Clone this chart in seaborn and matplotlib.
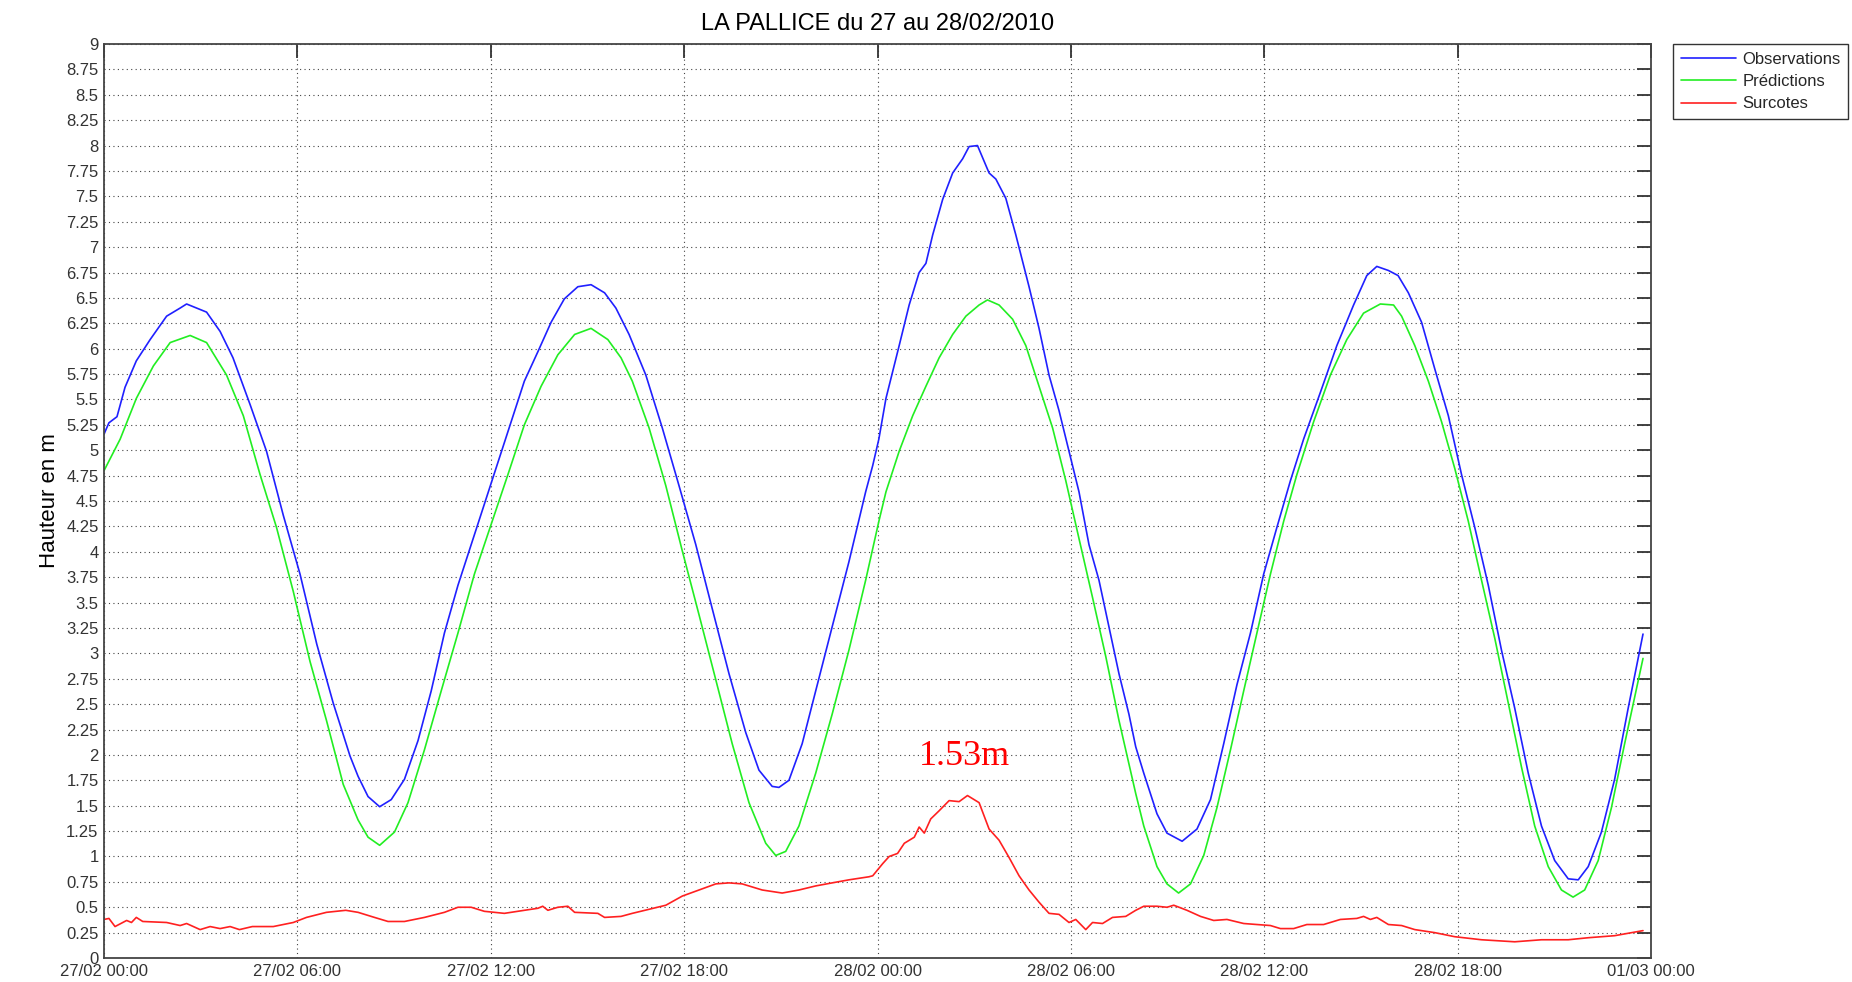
import pandas as pd
import matplotlib
matplotlib.use("Agg")
import matplotlib.pyplot as plt
import matplotlib.dates as mdates
from matplotlib.ticker import MultipleLocator, FuncFormatter
import seaborn as sns

# === Values (hours since 27/02/2010 00:00, height in m) ===
obs_hours = [0.0, 0.15, 0.4, 0.65, 1.0, 1.43, 1.94, 2.36, 2.56, 3.18, 3.6, 4.0, 4.53, 5.04,
             5.56, 6.08, 6.6, 7.11, 7.63, 7.88, 8.19, 8.55, 8.91, 9.32, 9.74, 10.15, 10.56,
             10.98, 11.39, 11.8, 12.22, 12.63, 13.04, 13.46, 13.87, 14.28, 14.7, 15.11, 15.53,
             15.88, 16.29, 16.81, 17.32, 17.84, 18.36, 18.87, 19.39, 19.91, 20.32, 20.73, 20.94,
             21.25, 21.66, 22.08, 22.59, 23.11, 23.63, 23.85, 24.04, 24.26, 24.67, 24.98, 25.29,
             25.5, 25.71, 26.02, 26.33, 26.64, 26.84, 27.1, 27.46, 27.67, 27.98, 28.29, 28.7,
             29.01, 29.32, 29.63, 29.94, 30.25, 30.56, 30.87, 31.18, 31.49, 31.8, 32.01, 32.26,
             32.67, 32.98, 33.45, 33.91, 34.33, 34.74, 35.15, 35.57, 35.98, 36.39, 36.81, 37.22,
             37.74, 38.25, 38.77, 39.18, 39.49, 39.85, 40.15, 40.47, 40.88, 41.29, 41.71, 42.12,
             42.53, 42.95, 43.36, 43.77, 44.19, 44.6, 45.01, 45.43, 45.74, 46.05, 46.46, 46.87,
             47.29, 47.75]
obs_m = [5.16, 5.27, 5.33, 5.62, 5.88, 6.09, 6.32, 6.40, 6.44, 6.36, 6.17, 5.91, 5.45, 4.99,
         4.36, 3.78, 3.09, 2.51, 1.99, 1.79, 1.59, 1.49, 1.56, 1.76, 2.14, 2.63, 3.20,
         3.67, 4.07, 4.47, 4.88, 5.28, 5.68, 5.97, 6.26, 6.49, 6.61, 6.63, 6.55,
         6.40, 6.14, 5.74, 5.22, 4.65, 4.07, 3.44, 2.80, 2.22, 1.85, 1.69, 1.68,
         1.75, 2.11, 2.63, 3.26, 3.90, 4.59, 4.85, 5.11, 5.51, 6.03, 6.43, 6.75,
         6.84, 7.12, 7.47, 7.73, 7.87, 7.99, 8.00, 7.73, 7.67, 7.48, 7.12, 6.61,
         6.20, 5.74, 5.39, 4.99, 4.59, 4.07, 3.72, 3.26, 2.80, 2.40, 2.08, 1.82,
         1.42, 1.23, 1.15, 1.27, 1.56, 2.11, 2.69, 3.20, 3.78, 4.24, 4.70, 5.11,
         5.57, 6.03, 6.43, 6.72, 6.81, 6.77, 6.72, 6.55, 6.26, 5.80, 5.34, 4.76,
         4.24, 3.67, 3.03, 2.46, 1.82, 1.30, 0.96, 0.78, 0.77, 0.90, 1.24, 1.76,
         2.46, 3.19]

pred_hours = [0.0, 0.5, 1.0, 1.53, 2.05, 2.67, 3.18, 3.8, 4.32, 4.84, 5.35, 5.87, 6.39, 6.9,
              7.42, 7.88, 8.19, 8.55, 9.01, 9.43, 9.94, 10.46, 10.98, 11.49, 12.01, 12.53,
              13.04, 13.56, 14.08, 14.6, 15.11, 15.63, 16.04, 16.39, 16.91, 17.43, 17.94,
              18.46, 18.98, 19.49, 20.01, 20.53, 20.84, 21.15, 21.56, 22.08, 22.59, 23.11,
              23.63, 24.04, 24.26, 24.67, 25.09, 25.5, 25.91, 26.33, 26.74, 27.15, 27.41,
              27.77, 28.19, 28.6, 29.01, 29.43, 29.84, 30.25, 30.67, 31.08, 31.49, 32.01,
              32.26, 32.67, 32.98, 33.34, 33.71, 34.12, 34.53, 34.95, 35.36, 35.77, 36.19,
              36.6, 37.01, 37.53, 38.05, 38.56, 39.08, 39.6, 40.01, 40.26, 40.67, 41.09,
              41.5, 41.91, 42.33, 42.74, 43.15, 43.57, 43.98, 44.39, 44.81, 45.22, 45.58,
              45.94, 46.36, 46.77, 47.18, 47.75]
pred_m = [4.80, 5.11, 5.51, 5.83, 6.06, 6.13, 6.06, 5.74, 5.34, 4.76, 4.24, 3.61, 2.92, 2.34,
          1.71, 1.36, 1.19, 1.11, 1.24, 1.53, 2.05, 2.63, 3.20, 3.78, 4.27, 4.76,
          5.25, 5.63, 5.94, 6.14, 6.20, 6.09, 5.91, 5.68, 5.22, 4.65, 4.01,
          3.38, 2.74, 2.11, 1.53, 1.13, 1.01, 1.05, 1.30, 1.82, 2.40, 3.03,
          3.72, 4.30, 4.59, 4.99, 5.34, 5.63, 5.91, 6.14, 6.32, 6.43, 6.48,
          6.43, 6.29, 6.03, 5.63, 5.22, 4.70, 4.13, 3.55, 2.97, 2.34, 1.62,
          1.30, 0.90, 0.73, 0.64, 0.73, 1.01, 1.48, 2.05, 2.63, 3.20, 3.78,
          4.30, 4.76, 5.28, 5.74, 6.09, 6.35, 6.44, 6.43, 6.32, 6.03, 5.68,
          5.28, 4.82, 4.30, 3.72, 3.15, 2.51, 1.88, 1.30, 0.90, 0.67, 0.60,
          0.67, 0.96, 1.48, 2.11, 2.95]

surge_hours = [0.0, 0.15, 0.34, 0.7, 0.85, 1.0, 1.2, 1.94, 2.36, 2.56, 2.98, 3.29, 3.6, 3.91,
               4.2, 4.6, 5.25, 5.87, 6.28, 6.9, 7.5, 7.88, 8.39, 8.81, 9.32, 9.94, 10.56,
               10.98, 11.39, 11.8, 12.42, 13.04, 13.46, 13.61, 13.77, 14.08, 14.39, 14.6,
               15.32, 15.53, 16.04, 16.39, 16.91, 17.43, 17.94, 18.46, 18.98, 19.39, 19.8,
               20.42, 21.04, 21.56, 22.08, 22.59, 23.11, 23.73, 23.85, 24.16, 24.36, 24.62,
               24.83, 25.14, 25.29, 25.45, 25.65, 25.91, 26.22, 26.53, 26.79, 27.15, 27.46,
               27.77, 28.08, 28.39, 28.7, 29.01, 29.32, 29.63, 29.94, 30.15, 30.46, 30.67,
               30.98, 31.29, 31.7, 32.01, 32.26, 32.67, 32.98, 33.19, 33.6, 34.02, 34.43,
               34.84, 35.36, 35.77, 36.19, 36.5, 36.91, 37.32, 37.84, 38.36, 38.87, 39.08,
               39.29, 39.49, 39.85, 40.26, 40.67, 41.29, 41.91, 42.74, 43.77, 44.6, 45.43,
               46.05, 46.87, 47.75]
surge_m = [0.38, 0.39, 0.31, 0.37, 0.35, 0.40, 0.36, 0.35, 0.32, 0.34, 0.28, 0.31, 0.29, 0.31,
           0.28, 0.31, 0.31, 0.35, 0.40, 0.45, 0.47, 0.45, 0.40, 0.36, 0.36, 0.40, 0.45,
           0.50, 0.50, 0.46, 0.44, 0.47, 0.49, 0.51, 0.47, 0.50, 0.51, 0.45,
           0.44, 0.40, 0.41, 0.44, 0.48, 0.52, 0.61, 0.67, 0.73, 0.74, 0.73,
           0.67, 0.64, 0.67, 0.71, 0.74, 0.77, 0.80, 0.81, 0.93, 1.00, 1.03,
           1.13, 1.19, 1.29, 1.23, 1.37, 1.45, 1.55, 1.54, 1.60, 1.53, 1.27,
           1.16, 0.99, 0.81, 0.67, 0.55, 0.44, 0.43, 0.35, 0.38, 0.28, 0.35,
           0.34, 0.40, 0.41, 0.47, 0.51, 0.51, 0.50, 0.52, 0.47, 0.41, 0.37,
           0.38, 0.34, 0.33, 0.32, 0.29, 0.29, 0.33, 0.33, 0.38, 0.39, 0.41,
           0.38, 0.40, 0.33, 0.32, 0.28, 0.25, 0.21, 0.18, 0.16, 0.18, 0.18,
           0.20, 0.22, 0.27]

series_labels = ["Observations", "Prédictions", "Surcotes"]
series_colors = ["#2020ff", "#22ee22", "#ff2020"]
peak_label = "1.53m"
peak_label_hour = 26.7
peak_label_value = 1.9

start = pd.Timestamp("2010-02-27 00:00")


def to_time(hours):
    return start + pd.to_timedelta(hours, unit="h")


# === Figure ===
sns.set_theme(style="white")
plt.rcParams['font.family'] = ['Liberation Sans', 'DejaVu Sans']

fig = plt.figure(figsize=(18.52, 9.82), dpi=100)
ax = fig.add_axes([0.0562, 0.0244, 0.8353, 0.9308])

for hours, values, lab, col in zip([obs_hours, pred_hours, surge_hours],
                                    [obs_m, pred_m, surge_m],
                                    series_labels, series_colors):
    sns.lineplot(x=to_time(hours), y=values, ax=ax, color=col, linewidth=1.2,
                 label=lab, legend=False)

# annotation of the peak surge
ax.text(mdates.date2num(to_time([peak_label_hour])[0]), peak_label_value, peak_label,
        color="red", fontsize=26, ha="center", va="baseline",
        family=["Liberation Serif", "DejaVu Serif"])

# === Axes ===
ax.set_xlim(start, start + pd.Timedelta(hours=48))
ax.set_ylim(0, 9)
ax.xaxis.set_major_locator(mdates.HourLocator(byhour=[0, 6, 12, 18]))
ax.xaxis.set_major_formatter(mdates.DateFormatter("%d/%m %H:%M"))
ax.yaxis.set_major_locator(MultipleLocator(0.25))
ax.yaxis.set_major_formatter(FuncFormatter(lambda v, p: f"{v:g}"))

ax.tick_params(direction="in", top=True, right=True, length=10, width=1.3,
               color="#333333", labelcolor="#333333", labelsize=12)
ax.tick_params(axis="y", pad=4)
ax.tick_params(axis="x", pad=4)
for sp in ax.spines.values():
    sp.set_color("#444444")
    sp.set_linewidth(1.3)

ax.grid(True, linestyle=(0, (1, 3)), color="#444444", linewidth=0.8)
ax.set_axisbelow(True)

ax.set_xlabel("")
ax.set_ylabel("Hauteur en m", fontsize=16, color="black", labelpad=4)
ax.set_title("LA PALLICE du 27 au 28/02/2010", fontsize=17, color="black", pad=10)

leg = ax.legend(loc="upper left", bbox_to_anchor=(1673 / 1852, 1 - 44 / 982),
                bbox_transform=fig.transFigure, fontsize=12, frameon=True,
                fancybox=False, handlelength=3.3, labelspacing=0.45,
                borderpad=0.45, handletextpad=0.4, borderaxespad=0)
leg.get_frame().set_edgecolor("black")
leg.get_frame().set_linewidth(1.0)

plt.savefig("out.png", dpi=100)
plt.close()
